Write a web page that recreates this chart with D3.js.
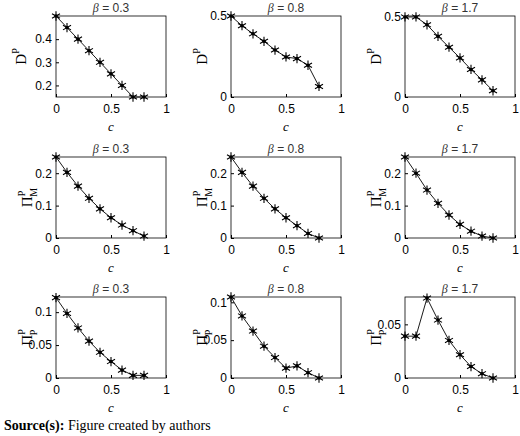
<!DOCTYPE html><html><head><meta charset="utf-8"><script src="https://cdn.jsdelivr.net/npm/d3@7"></script>
<style>body{margin:0;background:#fff}</style></head><body><svg id="c" width="520" height="436"></svg>
<script>
const cVals=[0,0.1,0.2,0.3,0.4,0.5,0.6,0.7,0.8];
const betas=["0.3","0.8","1.7"];
const D_03=[0.5,0.45,0.4,0.35,0.3,0.25,0.2,0.15,0.15];
const D_08=[0.5,0.44,0.39,0.344,0.29,0.247,0.237,0.196,0.065];
const D_17=[0.5,0.5,0.451,0.379,0.311,0.244,0.172,0.107,0.039];
const PM_03=[0.25,0.2025,0.16,0.1225,0.09,0.0625,0.04,0.0225,0.006];
const PM_08=[0.25,0.2025,0.16,0.1225,0.09,0.0625,0.038,0.014,0];
const PM_17=[0.25,0.2,0.148,0.107,0.071,0.042,0.021,0.006,0];
const PP_03=[0.122,0.098,0.076,0.056,0.039,0.025,0.012,0.004,0.004];
const PP_08=[0.107,0.082,0.062,0.042,0.027,0.013,0.016,0.007,0];
const PP_17=[0.039,0.039,0.0745,0.054,0.035,0.0217,0.0107,0.004,0];
const yDomains=[[[0.15,0.5],[0,0.5],[0,0.506]],[[0,0.25],[0,0.25],[0,0.25]],[[0,0.123],[0,0.107],[0,0.0755]]];
const yTicks=[[[0.2,0.3,0.4],[0,0.5],[0,0.5]],[[0,0.1,0.2],[0,0.1,0.2],[0,0.1,0.2]],[[0,0.05,0.1],[0,0.05,0.1],[0,0.05]]];
const xTicks=[0,0.5,1];
const series=[[D_03,D_08,D_17],[PM_03,PM_08,PM_17],[PP_03,PP_08,PP_17]];
const ylab=[["D","P",""],["Π","P","M"],["Π","P","P"]];
const svg=d3.select("#c");
const colX=[56,231,405], rowY=[16,157,297], W=110, H=81;
const fmt=v=>v===0?"0":(v===1?"1":String(v));
for(let r=0;r<3;r++)for(let k=0;k<3;k++){
 const g=svg.append("g").attr("transform",`translate(${colX[k]},${rowY[r]})`);
 const x=d3.scaleLinear().domain([0,1]).range([0,W]);
 const y=d3.scaleLinear().domain(yDomains[r][k]).range([H,0]);
 g.append("rect").attr("width",W).attr("height",H).attr("fill","none").attr("stroke","#000").attr("stroke-width",0.8);
 const ax=g.append("g").attr("transform",`translate(0,${H})`).call(d3.axisBottom(x).tickValues(xTicks).tickFormat(fmt).tickSizeInner(-3).tickSizeOuter(0));
 const ay=g.append("g").call(d3.axisLeft(y).tickValues(yTicks[r][k]).tickFormat(fmt).tickSizeInner(-3).tickSizeOuter(0));
 [ax,ay].forEach(a=>{a.select(".domain").remove();a.selectAll("text").attr("font-family","Liberation Sans, Arial").attr("font-size",12).attr("fill","#000");a.selectAll("line").attr("stroke","#000");});
 ax.selectAll("text").attr("dy","1.1em");
 ay.selectAll("text").attr("dx","-0.1em");
 const data=series[r][k];
 g.append("path").datum(data).attr("fill","none").attr("stroke","#000").attr("stroke-width",0.9)
  .attr("d",d3.line().x((d,i)=>x(cVals[i])).y(d=>y(d)));
 const star=d3.symbol().type(d3.symbolAsterisk).size(60);
 g.selectAll(".m").data(data).enter().append("path").attr("d",star)
  .attr("transform",(d,i)=>`translate(${x(cVals[i])},${y(d)})`).attr("stroke","#000").attr("stroke-width",1.1).attr("fill","none");
 g.selectAll(".d").data(data).enter().append("circle").attr("r",1.8).attr("cx",(d,i)=>x(cVals[i])).attr("cy",d=>y(d)).attr("fill","#000");
 g.append("text").attr("x",W/2).attr("y",-4).attr("text-anchor","middle").attr("font-family","Liberation Sans, Arial").attr("font-size",12).attr("fill","#333")
  .html(`<tspan font-family="Liberation Serif" font-style="italic">β</tspan> = ${betas[k]}`);
 g.append("text").attr("x",W/2).attr("y",H+34).attr("text-anchor","middle").attr("font-family","Liberation Serif").attr("font-style","italic").attr("font-size",13).text("c");
 const L=ylab[r];
 const yl=g.append("text").attr("transform",`translate(${r===0&&k===0?-30:-24},${H/2}) rotate(-90)`).attr("text-anchor","middle").attr("font-family","Liberation Serif").attr("font-size",15);
 yl.append("tspan").text(L[0]);
 yl.append("tspan").attr("dy",-7).attr("font-size",10).text(L[1]);
 if(L[2]) yl.append("tspan").attr("dx",-6).attr("dy",12).attr("font-size",10).text(L[2]);
}
const s=svg.append("text").attr("x",4).attr("y",430).attr("font-family","Liberation Serif").attr("font-size",14);
s.append("tspan").attr("font-weight","bold").text("Source(s):");
s.append("tspan").text(" Figure created by authors");
</script></body></html>
